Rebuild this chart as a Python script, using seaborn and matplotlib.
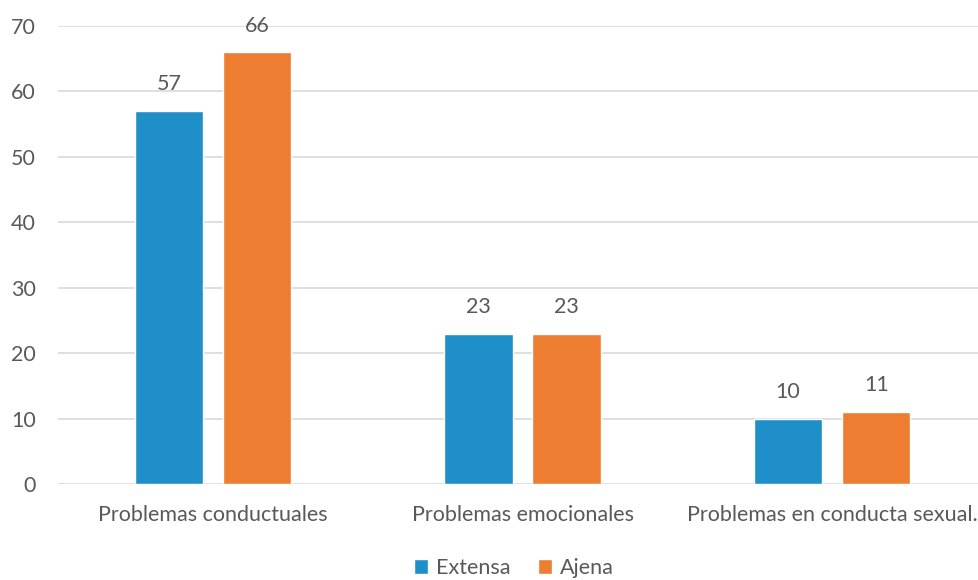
import matplotlib
matplotlib.use("Agg")
import matplotlib.pyplot as plt
import pandas as pd
import seaborn as sns

categories = ["Problemas conductuales", "Problemas emocionales", "Problemas en conducta sexual."]
series_names = ["Extensa", "Ajena"]
extensa = [57, 23, 10]
ajena = [66, 23, 11]
colors = ["#1F8FCA", "#ED7D31"]
y_ticks = [0, 10, 20, 30, 40, 50, 60, 70]

df = pd.DataFrame({
    "categoria": categories * 2,
    "grupo": [series_names[0]] * 3 + [series_names[1]] * 3,
    "valor": extensa + ajena,
})

sns.set_theme(style="white")
plt.rcParams["font.family"] = ["Lato", "DejaVu Sans"]
text_color = "#595959"
fs = 15.5

fig = plt.figure(figsize=(9.79, 5.8), dpi=100)
ax = fig.add_axes([58 / 979, 1 - 484 / 580, 929 / 979, 458 / 580])

sns.barplot(data=df, x="categoria", y="valor", hue="grupo", palette=colors,
            width=0.569, gap=0.227, ax=ax, legend=True, saturation=1)

ax.set_xlim(-0.5, 2.5)
ax.set_ylim(0, 70)
ax.set_yticks(y_ticks)
ax.yaxis.grid(True, color="#D9D9D9", linewidth=1.2)
ax.set_axisbelow(True)
for s in ax.spines.values():
    s.set_visible(False)
ax.set_xlabel("")
ax.set_ylabel("")
ax.tick_params(axis="both", length=0, labelsize=fs, colors=text_color)
ax.tick_params(axis="y", pad=16)
ax.tick_params(axis="x", pad=15)

for cont in ax.containers:
    ax.bar_label(cont, labels=[f"{v:.0f}" for v in cont.datavalues],
                 padding=12, fontsize=fs, color=text_color)

handles, labels = ax.get_legend_handles_labels()
ax.legend(handles, labels, loc="center", bbox_to_anchor=(514 / 979, 1 - 568 / 580),
          bbox_transform=fig.transFigure, ncol=2, frameon=False,
          prop={"size": fs},
          handlelength=0.65, handleheight=0.65, handletextpad=0.35, columnspacing=1.3,
          labelcolor=text_color)

fig.savefig("out.png", dpi=100)
